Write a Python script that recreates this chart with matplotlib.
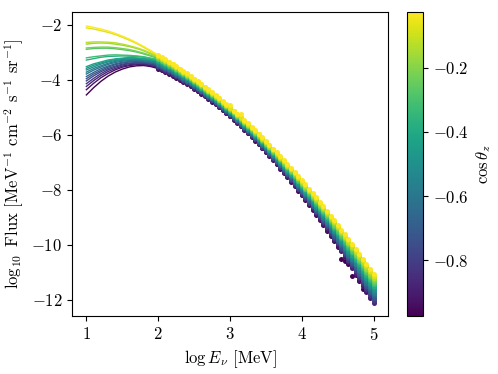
import numpy as np
import matplotlib
matplotlib.use("Agg")
import matplotlib.pyplot as plt
from matplotlib import colors, cm

plt.rcParams.update({
    "font.family": "serif",
    "font.serif": ["cmr10"],
    "mathtext.fontset": "cm",
    "axes.formatter.use_mathtext": True,
    "font.size": 12,
})

nan = np.nan

# zenith bins (bin centres)
cos_zenith = [-0.975, -0.925, -0.875, -0.825, -0.775, -0.725, -0.675, -0.625, -0.575, -0.525,
              -0.475, -0.425, -0.375, -0.325, -0.275, -0.225, -0.175, -0.125, -0.075, -0.025]

# measured points: one row per energy, one column per zenith bin
log_E = [2.00, 2.05, 2.10, 2.15, 2.20, 2.25, 2.30, 2.35, 2.40, 2.45, 2.50, 2.55, 2.60, 2.65, 2.70,
         2.75, 2.80, 2.85, 2.90, 2.95, 3.00, 3.05, 3.10, 3.15, 3.20, 3.25, 3.30, 3.35, 3.40, 3.45,
         3.50, 3.55, 3.60, 3.65, 3.70, 3.75, 3.80, 3.85, 3.90, 3.95, 4.00, 4.05, 4.10, 4.15, 4.20,
         4.25, 4.30, 4.35, 4.40, 4.45, 4.50, 4.55, 4.60, 4.65, 4.70, 4.75, 4.80, 4.85, 4.90, 4.95, 5.00]

flux_by_energy = [
    [-3.59, -3.56, -3.54, -3.51, -3.49, -3.46, -3.44, -3.41, -3.38, -3.36, -3.33, -3.31, -3.28, -3.26, -3.23, -3.20, -3.18, -3.15, -3.13, -3.10],
    [-3.65, -3.63, -3.60, -3.58, -3.55, -3.53, -3.50, -3.48, -3.45, -3.43, -3.40, -3.38, -3.35, -3.33, -3.30, -3.28, -3.25, -3.23, -3.20, -3.18],
    [-3.71, -3.69, -3.67, -3.64, -3.62, -3.59, -3.57, -3.55, -3.52, -3.50, -3.47, -3.45, -3.42, -3.40, -3.38, -3.35, -3.33, -3.30, -3.28, -3.26],
    [-3.78, -3.76, -3.73, -3.71, -3.69, -3.66, -3.64, -3.62, -3.59, -3.57, -3.55, -3.52, -3.50, -3.48, -3.45, -3.43, -3.41, -3.38, -3.36, -3.34],
    [-3.85, -3.82, -3.80, -3.78, -3.76, -3.73, -3.71, -3.69, -3.67, -3.64, -3.62, -3.60, -3.58, -3.55, -3.53, -3.51, -3.49, -3.46, -3.44, -3.42],
    [-3.92, -3.90, -3.87, -3.85, -3.83, -3.81, -3.79, -3.77, -3.74, -3.72, -3.70, -3.68, -3.66, -3.64, -3.61, -3.59, -3.57, -3.55, -3.53, -3.50],
    [-3.99, -3.97, -3.95, -3.93, -3.91, -3.89, -3.87, -3.84, -3.82, -3.80, -3.78, -3.76, -3.74, -3.72, -3.70, -3.68, -3.65, -3.63, -3.61, -3.59],
    [-4.07, -4.05, -4.03, -4.01, -3.99, -3.97, -3.95, -3.93, -3.90, -3.88, -3.86, -3.84, -3.82, -3.80, -3.78, -3.76, -3.74, -3.72, -3.70, -3.68],
    [-4.15, -4.13, -4.11, -4.09, -4.07, -4.05, -4.03, -4.01, -3.99, -3.97, -3.95, -3.93, -3.91, -3.89, -3.87, -3.85, -3.83, -3.81, -3.79, -3.77],
    [-4.23, -4.21, -4.19, -4.17, -4.15, -4.13, -4.12, -4.10, -4.08, -4.06, -4.04, -4.02, -4.00, -3.98, -3.96, -3.94, -3.92, -3.90, -3.88, -3.86],
    [-4.32, -4.30, -4.28, -4.26, -4.24, -4.22, -4.20, -4.18, -4.17, -4.15, -4.13, -4.11, -4.09, -4.07, -4.05, -4.03, -4.01, -3.99, -3.97, -3.96],
    [-4.41, -4.39, -4.37, -4.35, -4.33, -4.31, -4.29, -4.28, -4.26, -4.24, -4.22, -4.20, -4.18, -4.16, -4.14, -4.13, -4.11, -4.09, -4.07, -4.05],
    [-4.50, -4.48, -4.46, -4.44, -4.42, -4.41, -4.39, -4.37, -4.35, -4.33, -4.31, -4.30, -4.28, -4.26, -4.24, -4.22, -4.20, -4.19, -4.17, -4.15],
    [-4.59, -4.57, -4.56, -4.54, -4.52, -4.50, -4.48, -4.47, -4.45, -4.43, -4.41, -4.39, -4.37, -4.36, -4.34, -4.32, -4.30, -4.28, -4.27, -4.25],
    [-4.69, -4.67, -4.65, -4.64, -4.62, -4.60, -4.58, -4.56, -4.55, -4.53, -4.51, -4.49, -4.48, -4.46, -4.44, -4.42, -4.40, -4.39, -4.37, -4.35],
    [-4.79, -4.77, -4.75, -4.74, -4.72, -4.70, -4.68, -4.67, -4.65, -4.63, -4.61, -4.60, -4.58, -4.56, -4.54, -4.52, -4.51, -4.49, -4.47, -4.45],
    [-4.89, -4.87, -4.86, -4.84, -4.82, -4.80, -4.79, -4.77, -4.75, -4.73, -4.72, -4.70, -4.68, -4.66, -4.65, -4.63, -4.61, -4.59, -4.58, -4.56],
    [-5.00, -4.98, -4.96, -4.94, -4.93, -4.91, -4.89, -4.87, -4.86, -4.84, -4.82, -4.81, -4.79, -4.77, -4.75, -4.74, -4.72, -4.70, -4.68, -4.67],
    [-5.11, -5.09, -5.07, -5.05, -5.04, -5.02, -5.00, -4.98, -4.97, -4.95, -4.93, -4.91, -4.90, -4.88, -4.86, -4.85, -4.83, -4.81, -4.79, -4.78],
    [-5.22, -5.20, -5.18, -5.16, -5.15, -5.13, -5.11, -5.10, -5.08, -5.06, -5.04, -5.03, -5.01, -4.99, -4.97, -4.96, -4.94, -4.92, -4.90, -4.89],
    [-5.33, -5.31, -5.30, -5.28, -5.26, -5.24, -5.23, -5.21, -5.19, -5.17, -5.16, -5.14, -5.12, -5.10, -5.09, -5.07, -5.05, -5.03, -5.02, -4.91],
    [-5.45, -5.43, -5.41, -5.40, -5.38, -5.36, -5.34, -5.33, -5.31, -5.29, -5.27, -5.26, -5.24, -5.22, -5.20, -5.19, -5.17, -5.15, -5.13, -5.12],
    [-5.57, -5.55, -5.53, -5.51, -5.50, -5.48, -5.46, -5.44, -5.43, -5.41, -5.39, -5.37, -5.36, -5.34, -5.32, -5.30, -5.29, -5.27, -5.25, -5.23],
    [-5.69, -5.67, -5.65, -5.64, -5.62, -5.60, -5.58, -5.56, -5.55, -5.53, -5.51, -5.49, -5.48, -5.46, -5.44, -5.42, -5.40, -5.39, -5.37, -5.25],
    [-5.82, -5.80, -5.78, -5.76, -5.74, -5.72, -5.71, -5.69, -5.67, -5.65, -5.63, -5.62, -5.60, -5.58, -5.56, -5.54, -5.53, -5.51, -5.49, -5.47],
    [-5.94, -5.93, -5.91, -5.89, -5.87, -5.85, -5.83, -5.81, -5.80, -5.78, -5.76, -5.74, -5.72, -5.70, -5.69, -5.67, -5.65, -5.63, -5.61, -5.59],
    [-6.07, -6.06, -6.04, -6.02, -6.00, -5.98, -5.96, -5.94, -5.92, -5.91, -5.89, -5.87, -5.85, -5.83, -5.81, -5.79, -5.77, -5.76, -5.74, -5.72],
    [-6.21, -6.19, -6.17, -6.15, -6.13, -6.11, -6.09, -6.07, -6.06, -6.04, -6.02, -6.00, -5.98, -5.96, -5.94, -5.92, -5.90, -5.88, -5.86, -5.84],
    [-6.35, -6.33, -6.31, -6.29, -6.27, -6.25, -6.23, -6.21, -6.19, -6.17, -6.15, -6.13, -6.11, -6.09, -6.07, -6.05, -6.03, -6.01, -5.99, -5.97],
    [-6.49, -6.47, -6.45, -6.43, -6.41, -6.38, -6.36, -6.34, -6.32, -6.30, -6.28, -6.26, -6.24, -6.22, -6.20, -6.18, -6.16, -6.14, -6.12, -6.10],
    [-6.63, -6.61, -6.59, -6.57, -6.55, -6.53, -6.50, -6.48, -6.46, -6.44, -6.42, -6.40, -6.38, -6.36, -6.34, -6.32, -6.30, -6.28, -6.26, -6.24],
    [-6.77, -6.75, -6.73, -6.71, -6.69, -6.67, -6.65, -6.62, -6.60, -6.58, -6.56, -6.54, -6.52, -6.50, -6.48, -6.45, -6.43, -6.41, -6.39, -6.37],
    [-6.92, -6.90, -6.88, -6.86, -6.83, -6.81, -6.79, -6.77, -6.75, -6.72, -6.70, -6.68, -6.66, -6.64, -6.62, -6.59, -6.57, -6.55, -6.53, -6.51],
    [-7.07, -7.05, -7.03, -7.00, -6.98, -6.96, -6.94, -6.91, -6.89, -6.87, -6.85, -6.82, -6.80, -6.78, -6.76, -6.73, -6.71, -6.69, -6.67, -6.64],
    [-7.23, -7.20, -7.18, -7.16, -7.13, -7.11, -7.09, -7.06, -7.04, -7.02, -6.99, -6.97, -6.95, -6.92, -6.90, -6.88, -6.85, -6.83, -6.81, -6.78],
    [-7.38, -7.36, -7.34, -7.31, -7.29, -7.26, -7.24, -7.21, -7.19, -7.17, -7.14, -7.12, -7.09, -7.07, -7.05, -7.02, -7.00, -6.97, -6.95, -6.92],
    [-7.54, -7.52, -7.49, -7.47, -7.44, -7.42, -7.39, -7.37, -7.34, -7.32, -7.29, -7.27, -7.24, -7.22, -7.19, -7.17, -7.14, -7.12, -7.09, -7.07],
    [-7.71, -7.68, -7.65, -7.63, -7.60, -7.58, -7.55, -7.52, -7.50, -7.47, -7.45, -7.42, -7.39, -7.37, -7.34, -7.32, -7.29, -7.26, -7.24, -7.21],
    [-7.87, -7.84, -7.82, -7.79, -7.76, -7.74, -7.71, -7.68, -7.66, -7.63, -7.60, -7.58, -7.55, -7.52, -7.49, -7.47, -7.44, -7.41, -7.39, -7.36],
    [-8.04, -8.01, -7.98, -7.96, -7.93, -7.90, -7.87, -7.84, -7.82, -7.79, -7.76, -7.73, -7.70, -7.68, -7.65, -7.62, -7.59, -7.57, -7.54, -7.51],
    [-8.21, -8.18, -8.15, -8.12, -8.09, -8.07, -8.04, -8.01, -7.98, -7.95, -7.92, -7.89, -7.86, -7.83, -7.81, -7.78, -7.75, -7.72, -7.69, -7.66],
    [-8.38, -8.35, -8.32, -8.29, -8.26, -8.23, -8.20, -8.17, -8.14, -8.11, -8.08, -8.05, -8.02, -7.99, -7.96, -7.93, -7.90, -7.87, -7.84, -7.81],
    [-8.56, -8.53, -8.50, -8.47, -8.44, -8.41, -8.37, -8.34, -8.31, -8.28, -8.25, -8.22, -8.19, -8.16, -8.12, -8.09, -8.06, -8.03, -8.00, -7.97],
    [-8.74, -8.71, -8.68, -8.64, -8.61, -8.58, -8.55, -8.51, -8.48, -8.45, -8.42, -8.38, -8.35, -8.32, -8.29, -8.25, -8.22, -8.19, -8.16, -8.12],
    [-8.92, -8.89, -8.86, -8.82, -8.79, -8.76, -8.72, -8.69, -8.65, -8.62, -8.59, -8.55, -8.52, -8.49, -8.45, -8.42, -8.38, -8.35, -8.32, -8.28],
    [-9.11, -9.07, -9.04, -9.00, -8.97, -8.93, -8.90, -8.86, -8.83, -8.79, -8.76, -8.72, -8.69, -8.65, -8.62, -8.58, -8.55, -8.51, -8.48, -8.44],
    [-9.30, -9.26, -9.22, -9.19, -9.15, -9.11, -9.08, -9.04, -9.01, -8.97, -8.93, -8.90, -8.86, -8.82, -8.79, -8.75, -8.72, -8.68, -8.64, -8.61],
    [-9.49, -9.45, -9.41, -9.37, -9.34, -9.30, -9.26, -9.22, -9.19, -9.15, -9.11, -9.07, -9.03, -9.00, -8.96, -8.92, -8.88, -8.85, -8.81, -8.77],
    [-9.68, -9.64, -9.60, -9.56, -9.52, -9.49, -9.45, -9.41, -9.37, -9.33, -9.29, -9.25, -9.21, -9.17, -9.13, -9.09, -9.05, -9.02, -8.98, -8.94],
    [-9.88, -9.84, -9.80, -9.76, -9.72, -9.67, -9.63, -9.59, -9.55, -9.51, -9.47, -9.43, -9.39, -9.35, -9.31, -9.27, -9.23, -9.19, -9.15, -9.11],
    [-10.08, -10.04, -9.99, -9.95, -9.91, -9.87, -9.82, -9.78, -9.74, -9.70, -9.66, -9.61, -9.57, -9.53, -9.49, -9.44, -9.40, -9.36, -9.32, -9.28],
    [-10.52, -10.24, -10.19, -10.15, -10.11, -10.06, -10.02, -9.97, -9.93, -9.89, -9.84, -9.80, -9.75, -9.71, -9.67, -9.62, -9.58, -9.54, -9.49, -9.45],
    [-10.58, -10.44, -10.39, -10.35, -10.30, -10.26, -10.21, -10.17, -10.12, -10.08, -10.03, -9.99, -9.94, -9.89, -9.85, -9.80, -9.76, -9.71, -9.67, -9.62],
    [-10.69, -10.65, -10.60, -10.55, -10.50, -10.46, -10.41, -10.36, -10.32, -10.27, -10.22, -10.17, -10.13, -10.08, -10.03, -9.99, -9.94, -9.89, -9.84, -9.80],
    [-11.15, -10.86, -10.81, -10.76, -10.71, -10.66, -10.61, -10.56, -10.51, -10.46, -10.42, -10.37, -10.32, -10.27, -10.22, -10.17, -10.12, -10.07, -10.02, -9.97],
    [-11.12, -11.07, -11.02, -10.97, -10.92, -10.86, -10.81, -10.76, -10.71, -10.66, -10.61, -10.56, -10.51, -10.46, -10.41, -10.36, -10.31, -10.26, -10.21, -10.15],
    [-11.34, -11.28, -11.23, -11.18, -11.12, -11.07, -11.02, -10.97, -10.91, -10.86, -10.81, -10.76, -10.70, -10.65, -10.60, -10.55, -10.49, -10.44, -10.39, -10.34],
    [-11.62, -11.50, -11.45, -11.39, -11.34, -11.28, -11.23, -11.17, -11.12, -11.06, -11.01, -10.95, -10.90, -10.85, -10.79, -10.74, -10.68, -10.63, -10.57, -10.52],
    [nan, -11.72, -11.66, -11.61, -11.55, -11.50, -11.44, -11.38, -11.33, -11.27, -11.21, -11.16, -11.10, -11.04, -10.99, -10.93, -10.87, -10.82, -10.76, -10.70],
    [nan, -11.94, -11.89, -11.83, -11.77, -11.71, -11.65, -11.59, -11.53, -11.48, -11.42, -11.36, -11.30, -11.24, -11.18, -11.13, -11.07, -11.01, -10.95, -10.89],
    [nan, nan, -12.11, -12.05, -11.99, -11.93, -11.87, -11.81, -11.75, -11.69, -11.63, -11.56, -11.50, -11.44, -11.38, -11.32, -11.26, -11.20, -11.14, -11.08],
]

# fitted curves, low-energy part (one row per zenith bin)
fit_log_E = [1.0, 1.1, 1.2, 1.3, 1.4, 1.5, 1.6, 1.7, 1.8, 1.9, 2.0]
fit_flux = [
    [-4.55, -4.29, -4.06, -3.87, -3.72, -3.61, -3.53, -3.49, -3.48, -3.52, -3.59],
    [-4.36, -4.13, -3.93, -3.77, -3.64, -3.54, -3.48, -3.45, -3.45, -3.49, -3.56],
    [-4.24, -4.03, -3.85, -3.70, -3.59, -3.50, -3.45, -3.42, -3.43, -3.47, -3.54],
    [-4.14, -3.95, -3.78, -3.64, -3.54, -3.46, -3.41, -3.39, -3.40, -3.44, -3.51],
    [-4.04, -3.86, -3.71, -3.59, -3.50, -3.43, -3.39, -3.37, -3.38, -3.42, -3.49],
    [-3.96, -3.79, -3.66, -3.54, -3.45, -3.39, -3.35, -3.34, -3.36, -3.39, -3.46],
    [-3.88, -3.73, -3.60, -3.50, -3.42, -3.36, -3.33, -3.32, -3.34, -3.38, -3.44],
    [-3.79, -3.65, -3.54, -3.44, -3.37, -3.32, -3.30, -3.29, -3.31, -3.35, -3.41],
    [-3.72, -3.59, -3.49, -3.40, -3.33, -3.29, -3.27, -3.26, -3.28, -3.32, -3.38],
    [-3.64, -3.53, -3.43, -3.35, -3.30, -3.26, -3.24, -3.24, -3.26, -3.30, -3.36],
    [-3.58, -3.47, -3.39, -3.32, -3.26, -3.23, -3.21, -3.22, -3.24, -3.27, -3.33],
    [-3.52, -3.42, -3.35, -3.28, -3.24, -3.21, -3.19, -3.20, -3.22, -3.26, -3.31],
    [-3.28, -3.23, -3.18, -3.15, -3.14, -3.13, -3.14, -3.15, -3.18, -3.23, -3.28],
    [-3.20, -3.16, -3.13, -3.10, -3.09, -3.10, -3.11, -3.13, -3.16, -3.21, -3.26],
    [-2.89, -2.86, -2.85, -2.85, -2.87, -2.90, -2.94, -2.99, -3.06, -3.14, -3.23],
    [-2.84, -2.82, -2.81, -2.81, -2.83, -2.86, -2.90, -2.96, -3.03, -3.11, -3.20],
    [-2.70, -2.67, -2.66, -2.67, -2.70, -2.74, -2.79, -2.86, -2.95, -3.06, -3.18],
    [-2.64, -2.62, -2.62, -2.63, -2.65, -2.70, -2.76, -2.83, -2.92, -3.03, -3.15],
    [-2.11, -2.15, -2.21, -2.27, -2.35, -2.45, -2.56, -2.68, -2.82, -2.97, -3.13],
    [-2.04, -2.09, -2.15, -2.22, -2.31, -2.41, -2.52, -2.65, -2.79, -2.94, -3.10],
]

norm = colors.Normalize(vmin=-0.975, vmax=-0.025)
cmap = plt.get_cmap("viridis")

fig = plt.figure(figsize=(4.98, 3.74), dpi=100)
ax = fig.add_axes([0.1446, 0.155, 0.6345, 0.813])
cax = fig.add_axes([0.817, 0.155, 0.032, 0.813])

pts = np.array(flux_by_energy).T

for k, c in enumerate(cos_zenith):
    ax.plot(fit_log_E, fit_flux[k], color=cmap(norm(c)), lw=1.0)

for k, c in enumerate(cos_zenith):
    ax.plot(log_E, pts[k], "o", ms=3.6, mew=0, color=cmap(norm(c)))

ax.set_xlim(0.8, 5.2)
ax.set_ylim(-12.6, -1.53)
ax.set_xticks([1, 2, 3, 4, 5])
ax.set_yticks([-12, -10, -8, -6, -4, -2])
ax.set_xlabel(r"$\log E_\nu$ [MeV]")
ax.set_ylabel(r"$\log_{10}$ Flux [MeV$^{-1}$ cm$^{-2}$ s$^{-1}$ sr$^{-1}$]")

sm = cm.ScalarMappable(norm=norm, cmap=cmap)
cb = fig.colorbar(sm, cax=cax)
cb.set_ticks([-0.8, -0.6, -0.4, -0.2])
cb.set_label(r"$\cos\theta_z$")

fig.savefig("out.png", dpi=100)
